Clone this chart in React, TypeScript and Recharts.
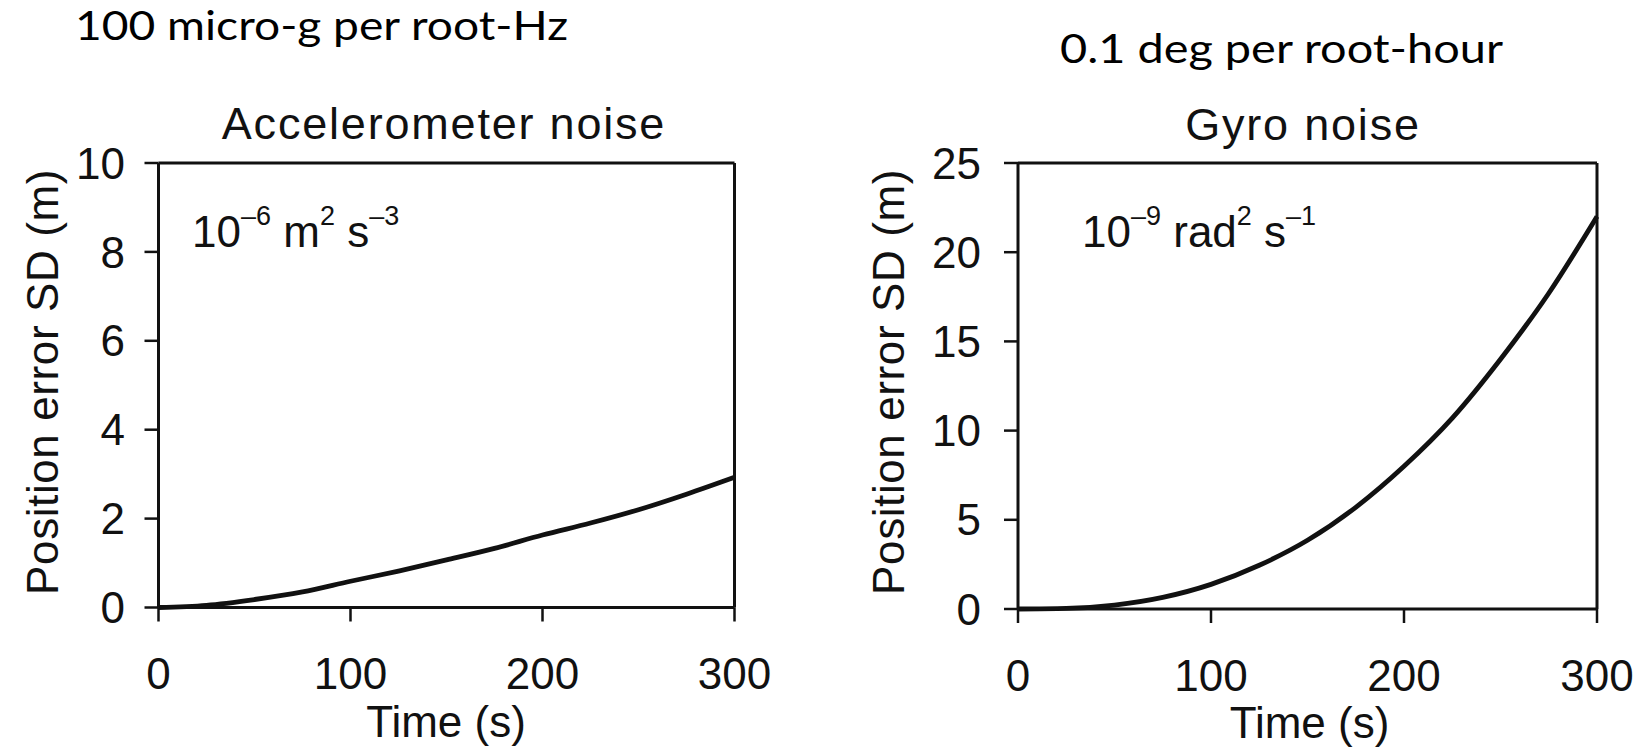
import React from 'react';
import { LineChart, Line, XAxis, YAxis } from 'recharts';

// ---- data ----
const timeS = [0, 25, 50, 75, 100, 125, 150, 175, 200, 225, 250, 275, 300];
const accelErrorM = [0, 0.05, 0.18, 0.35, 0.59, 0.82, 1.07, 1.33, 1.63, 1.9, 2.2, 2.55, 2.93];
const gyroErrorM = [0, 0.03, 0.22, 0.65, 1.38, 2.45, 3.85, 5.7, 8.0, 10.7, 14.0, 17.7, 22.0];
const xTicks = [0, 100, 200, 300];
const accelYTicks = [0, 2, 4, 6, 8, 10];
const gyroYTicks = [0, 5, 10, 15, 20, 25];
const headings = ['100 micro-g per root-Hz', '0.1 deg per root-hour'];
const titles = ['Accelerometer noise', 'Gyro noise'];
const xAxisLabel = 'Time (s)';
const yAxisLabel = 'Position error SD (m)';
const accelNote = [['10', 0], ['–6', 1], [' m', 0], ['2', 1], [' s', 0], ['–3', 1]];
const gyroNote = [['10', 0], ['–9', 1], [' rad', 0], ['2', 1], [' s', 0], ['–1', 1]];

const FONT = "'Liberation Sans', Arial, Helvetica, sans-serif";
const HEAD_FONT = "Lato, 'Open Sans', 'Noto Sans', sans-serif";
const INK = '#111';

type PanelCfg = {
  left: number;
  width: number;
  height: number;
  margin: { top: number; right: number; bottom: number; left: number };
  yTickMargin: number;
  yMax: number;
  yTicks: number[];
  values: number[];
  heading: string;
  headingPos: { x: number; y: number; len: number };
  title: string;
  titlePos: { x: number; y: number };
  yLabelPos: { x: number; y: number };
  xLabelPos: { x: number; y: number };
  note: (string | number)[][];
  notePos: { x: number; y: number };
};

const panels: PanelCfg[] = [
  {
    left: 0,
    width: 823,
    height: 752,
    margin: { top: 162, right: 87.5, bottom: 4.5, left: 8.5 },
    yTickMargin: 19.5,
    yMax: 10,
    yTicks: accelYTicks,
    values: accelErrorM,
    heading: headings[0],
    headingPos: { x: 75, y: 40, len: 493 },
    title: titles[0],
    titlePos: { x: 444, y: 139 },
    yLabelPos: { x: 58, y: 382 },
    xLabelPos: { x: 446, y: 737 },
    note: accelNote,
    notePos: { x: 192, y: 247 },
  },
  {
    left: 823,
    width: 823,
    height: 752,
    margin: { top: 162, right: 48, bottom: 3, left: 45 },
    yTickMargin: 23,
    yMax: 25,
    yTicks: gyroYTicks,
    values: gyroErrorM,
    heading: headings[1],
    headingPos: { x: 237, y: 63, len: 443 },
    title: titles[1],
    titlePos: { x: 480, y: 140 },
    yLabelPos: { x: 81, y: 382 },
    xLabelPos: { x: 486.5, y: 738 },
    note: gyroNote,
    notePos: { x: 259, y: 247 },
  },
];

function Panel({ cfg }: { cfg: PanelCfg }) {
  const data = timeS.map((t, i) => ({ t, v: cfg.values[i] }));
  const axisLine = { stroke: INK, strokeWidth: 3 };
  const tickLine = { stroke: INK, strokeWidth: 2.5 };
  const tickStyle = { fill: INK, fontSize: 44, fontFamily: FONT };

  const topContent = () => (
    <g>
      <text
        x={cfg.headingPos.x}
        y={cfg.headingPos.y}
        fontFamily={HEAD_FONT}
        fontSize={40}
        fill="#000"
        textLength={cfg.headingPos.len}
        lengthAdjust="spacingAndGlyphs"
      >
        {cfg.heading}
      </text>
      <text
        x={cfg.titlePos.x}
        y={cfg.titlePos.y}
        textAnchor="middle"
        fontFamily={FONT}
        fontSize={45}
        letterSpacing={1.8}
        fill={INK}
      >
        {cfg.title}
      </text>
    </g>
  );

  const yLabelContent = () => (
    <text
      x={cfg.yLabelPos.x}
      y={cfg.yLabelPos.y}
      transform={`rotate(-90, ${cfg.yLabelPos.x}, ${cfg.yLabelPos.y})`}
      textAnchor="middle"
      fontFamily={FONT}
      fontSize={44}
      letterSpacing={0.6}
      fill={INK}
    >
      {yAxisLabel}
    </text>
  );

  const xLabelContent = () => (
    <text x={cfg.xLabelPos.x} y={cfg.xLabelPos.y} textAnchor="middle" fontFamily={FONT} fontSize={44} fill={INK}>
      {xAxisLabel}
    </text>
  );

  const noteContent = () => {
    let prevSup = 0;
    return (
      <text x={cfg.notePos.x} y={cfg.notePos.y} fontFamily={FONT} fontSize={44} fill={INK} style={{ whiteSpace: 'pre' }}>
        {cfg.note.map(([s, sup], i) => {
          const dy = sup === prevSup ? 0 : sup ? -22 : 22;
          prevSup = sup as number;
          return (
            <tspan key={i} dy={dy} fontSize={sup ? 27 : 44}>
              {s as string}
            </tspan>
          );
        })}
      </text>
    );
  };

  return (
    <div style={{ position: 'absolute', left: cfg.left, top: 0, width: cfg.width, height: cfg.height }}>
      <LineChart width={cfg.width} height={cfg.height} data={data} margin={cfg.margin}>
        <XAxis
          dataKey="t"
          type="number"
          domain={[0, 300]}
          ticks={xTicks}
          interval={0}
          height={140}
          tickSize={14}
          tickMargin={36.5}
          axisLine={axisLine}
          tickLine={tickLine}
          tick={tickStyle}
          label={{ content: xLabelContent }}
        />
        <XAxis
          xAxisId="top"
          orientation="top"
          dataKey="t"
          type="number"
          domain={[0, 300]}
          height={1}
          tick={false}
          tickLine={false}
          axisLine={axisLine}
          label={{ content: topContent }}
        />
        <YAxis
          type="number"
          domain={[0, cfg.yMax]}
          ticks={cfg.yTicks}
          interval={0}
          width={150}
          tickSize={14}
          tickMargin={cfg.yTickMargin}
          axisLine={axisLine}
          tickLine={tickLine}
          tick={tickStyle}
          label={{ content: yLabelContent }}
        />
        <YAxis
          yAxisId="right"
          orientation="right"
          type="number"
          domain={[0, cfg.yMax]}
          width={1}
          tick={false}
          tickLine={false}
          axisLine={axisLine}
          label={{ content: noteContent }}
        />
        <Line
          dataKey="v"
          type="monotone"
          stroke={INK}
          strokeWidth={4.8}
          dot={false}
          activeDot={false}
          isAnimationActive={false}
        />
      </LineChart>
    </div>
  );
}

export default function App() {
  return (
    <div style={{ position: 'absolute', left: 0, top: 0, width: 1646, height: 752, background: '#fff', overflow: 'hidden' }}>
      {panels.map((p, i) => (
        <Panel key={i} cfg={p} />
      ))}
    </div>
  );
}
